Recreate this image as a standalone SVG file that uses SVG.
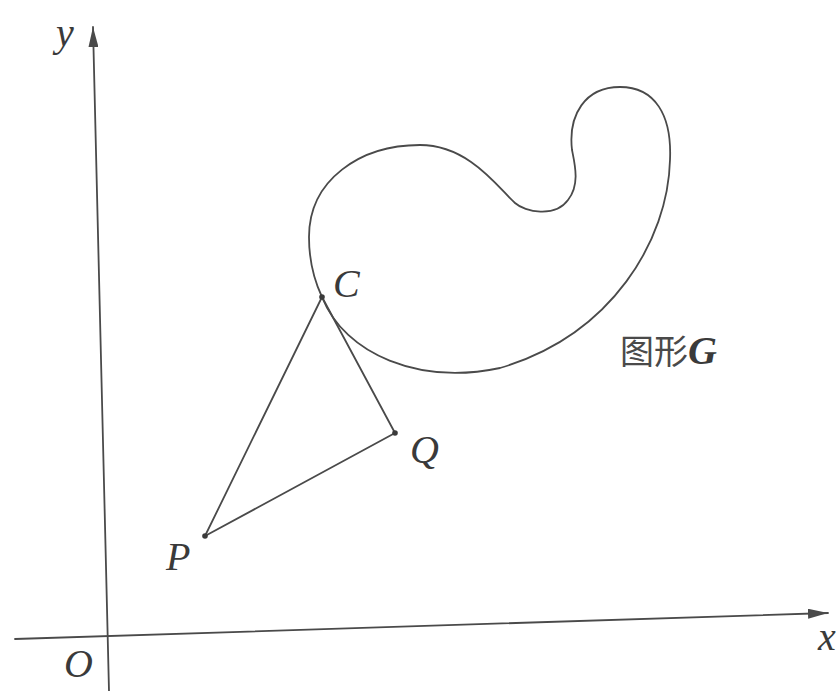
<svg xmlns="http://www.w3.org/2000/svg" width="838" height="691" viewBox="0 0 838 691">
<style>
.ln{fill:none;stroke:#4a4a4a;stroke-width:1.8;stroke-linecap:round;stroke-linejoin:round}
.lb{font-family:"Liberation Serif","DejaVu Serif",serif;font-style:italic;font-size:40px;fill:#3a3a3a}
.cjk{font-family:"Noto Sans CJK SC","Noto Sans CJK JP",sans-serif;font-size:34px;fill:#4a4a4a}
.dot{fill:#3a3a3a}
</style>
<defs>
<marker id="arr" viewBox="0 0 20 10" refX="20" refY="5" markerWidth="20" markerHeight="10" markerUnits="userSpaceOnUse" orient="auto">
<path d="M0,0 L20,5 L0,10 Z" fill="#4a4a4a"/>
</marker>
</defs>
<rect width="838" height="691" fill="#ffffff"/>
<g id="axes">
<line class="ln" x1="15" y1="639" x2="828" y2="613" marker-end="url(#arr)"/>
<line class="ln" x1="109" y1="691" x2="93" y2="27" marker-end="url(#arr)"/>
<text class="lb" x="818" y="650" font-size="40">x</text>
<text class="lb" x="56" y="46">y</text>
<text class="lb" x="64" y="677">O</text>
</g>
<g id="figureG">
<path class="ln" d="M322,297 C314,280 309,260 309,237 C309,180 360,145 420,145 C470,145 500,190 515,203 C525,212 555,218 568,200 C580,185 575,165 572,150 C568,115 585,87 620,87 C655,87 672,115 670,160 C668,240 612,335 500,368 C420,385 345,355 322,297 Z"/>
<text x="620" y="364"><tspan class="cjk">图形</tspan><tspan class="lb" font-weight="bold" font-size="38">G</tspan></text>
</g>
<g id="connectors">
<line class="ln" x1="205" y1="536" x2="322" y2="297"/>
<line class="ln" x1="322" y1="297" x2="395" y2="433"/>
<line class="ln" x1="395" y1="433" x2="205" y2="536"/>
</g>
<g id="pointC">
<circle class="dot" cx="322" cy="297" r="2.8"/>
<text class="lb" x="333" y="297">C</text>
</g>
<g id="pointQ">
<circle class="dot" cx="395" cy="433" r="2.8"/>
<text class="lb" x="410" y="463">Q</text>
</g>
<g id="pointP">
<circle class="dot" cx="205" cy="536" r="2.8"/>
<text class="lb" x="166" y="570">P</text>
</g>
</svg>
